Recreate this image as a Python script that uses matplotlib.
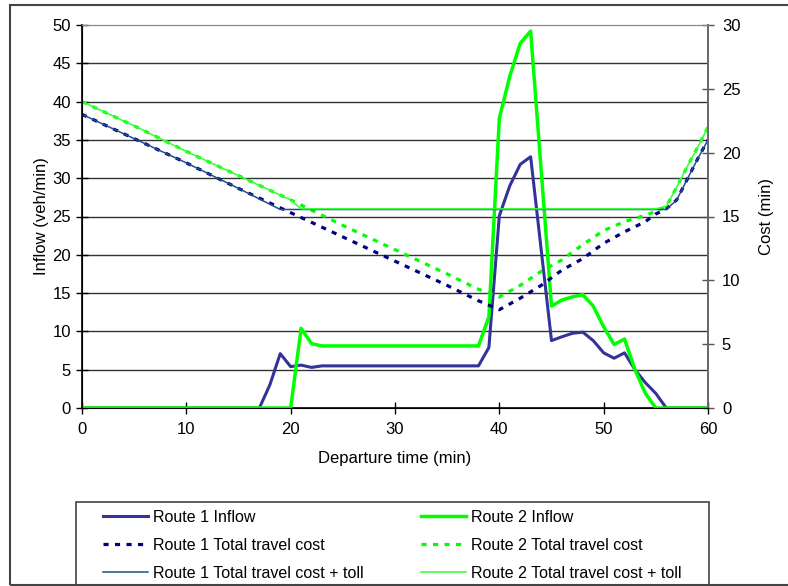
import matplotlib.pyplot as plt
from matplotlib.patches import Rectangle
from matplotlib.lines import Line2D

plt.rcParams['font.family'] = ['Liberation Sans', 'DejaVu Sans']

# inflow (veh/min)
r1_t = [0, 17, 18, 19, 20, 21, 22, 23, 38, 39, 40, 41, 42, 43, 45, 46, 47, 48, 49, 50, 51, 52, 53, 54, 55, 56, 60]
r1_inflow = [0, 0, 3.0, 7.1, 5.4, 5.6, 5.3, 5.5, 5.5, 7.9, 25.1, 29.0, 31.8, 32.8, 8.8, 9.3, 9.75, 9.9, 8.8, 7.2, 6.5, 7.2, 5.0, 3.3, 1.9, 0, 0]

r2_t = [0, 20, 21, 22, 23, 38, 39, 40, 41, 42, 43, 45, 46, 47, 48, 49, 50, 51, 52, 53, 54, 55, 60]
r2_inflow = [0, 0, 10.4, 8.4, 8.1, 8.1, 11.9, 37.8, 43.3, 47.6, 49.2, 13.3, 14.1, 14.5, 14.8, 13.3, 10.6, 8.3, 9.0, 5.0, 1.9, 0, 0]

# total travel cost (min)
cost_t = [0, 5, 10, 15, 20, 25, 30, 35, 38, 40, 42, 44, 46, 48, 50, 52, 54, 55, 56, 57, 58, 59, 60]
r1_cost = [23.0, 21.1, 19.2, 17.2, 15.3, 13.4, 11.5, 9.6, 8.4, 7.7, 8.6, 9.6, 10.8, 11.7, 12.9, 13.8, 14.6, 15.2, 15.6, 16.3, 17.9, 19.5, 21.0]
r2_cost = [24.0, 22.1, 20.1, 18.2, 16.3, 14.3, 12.4, 10.5, 9.3, 8.7, 9.6, 10.7, 11.6, 12.8, 13.9, 14.6, 15.1, 15.4, 15.8, 17.3, 18.9, 20.4, 22.0]

# total travel cost + toll (min)
r1_toll_t = [0, 5, 10, 15, 19, 56, 57, 58, 59, 60]
r1_toll = [23.0, 21.1, 19.2, 17.2, 15.55, 15.55, 16.3, 17.9, 19.5, 21.0]
r2_toll_t = [0, 5, 10, 15, 20, 21, 55, 56, 57, 58, 59, 60]
r2_toll = [24.0, 22.1, 20.1, 18.2, 16.3, 15.6, 15.6, 15.8, 17.3, 18.9, 20.4, 22.0]

c_r1 = '#333399'
c_r1_cost = '#000080'
c_r1_toll = '#1f4e8c'
c_r2 = '#00ff00'
c_r2_toll = '#33ff33'
dots = (0, (1.6, 2.0))

fig = plt.figure(figsize=(7.88, 5.86), dpi=100)
ax = fig.add_axes([82/788, 1 - 408/586, 626/788, 383/586])
ax2 = ax.twinx()

for y in range(5, 50, 5):
    ax.axhline(y, color='#333333', lw=1.0, zorder=0)

ax.plot(r1_t, r1_inflow, color=c_r1, lw=2.2, zorder=3)
ax.plot(r2_t, r2_inflow, color=c_r2, lw=2.5, zorder=4)
ax2.plot(cost_t, r1_cost, color=c_r1_cost, lw=2.3, linestyle=dots)
ax2.plot(cost_t, r2_cost, color=c_r2, lw=2.3, linestyle=dots)
ax2.plot(r1_toll_t, r1_toll, color=c_r1_toll, lw=1.1)
ax2.plot(r2_toll_t, r2_toll, color=c_r2_toll, lw=1.1)

ax.set_xlim(0, 60)
ax.set_ylim(0, 50)
ax2.set_ylim(0, 30)
ax.set_xticks(range(0, 61, 10))
ax.set_yticks(range(0, 51, 5))
ax2.set_yticks(range(0, 31, 5))

ax.tick_params(direction='inout', length=8, width=1, labelsize=12, colors='black')
ax.tick_params(axis='y', pad=4)
ax.tick_params(axis='x', pad=6)
ax2.tick_params(direction='inout', length=8, width=1, labelsize=12, color='#555555', labelcolor='black', pad=6)

for s in ['left', 'bottom']:
    ax.spines[s].set_color('black')
    ax.spines[s].set_linewidth(1.2)
for a in [ax, ax2]:
    a.spines['top'].set_color('#888888')
    a.spines['right'].set_color('#666666')
    a.spines['right'].set_linewidth(1.2)

ax.set_xlabel('Departure time (min)', fontsize=12, labelpad=10)
ax.set_ylabel('Inflow (veh/min)', fontsize=12, labelpad=2)
ax2.set_ylabel('Cost (min)', fontsize=12, labelpad=13)

# outer chart frame and legend box
fig.add_artist(Rectangle((10/788, 1/586), 1.0, 580/586, transform=fig.transFigure,
                         fill=False, edgecolor='#444444', lw=1.5))
fig.add_artist(Rectangle((76/788, -0.02), 633/788, 1 - 502/586 + 0.02, transform=fig.transFigure,
                         fill=False, edgecolor='#444444', lw=1.2))

col1 = [Line2D([], [], color=c_r1, lw=2.2),
        Line2D([], [], color=c_r1_cost, lw=2.3, linestyle=dots),
        Line2D([], [], color=c_r1_toll, lw=1.1)]
col2 = [Line2D([], [], color=c_r2, lw=2.5),
        Line2D([], [], color=c_r2, lw=2.3, linestyle=dots),
        Line2D([], [], color=c_r2_toll, lw=1.1)]
lab1 = ['Route 1 Inflow', 'Route 1 Total travel cost', 'Route 1 Total travel cost + toll']
lab2 = ['Route 2 Inflow', 'Route 2 Total travel cost', 'Route 2 Total travel cost + toll']

for handles, labels, x0 in [(col1, lab1, 103), (col2, lab2, 421)]:
    fig.legend(handles, labels, loc='upper left', bbox_to_anchor=(x0/788, 1 - 510/586),
               frameon=False, fontsize=11.5, handlelength=2.8, handletextpad=0.3,
               borderpad=0, borderaxespad=0, labelspacing=0.8)

fig.savefig('out.png', dpi=100)
